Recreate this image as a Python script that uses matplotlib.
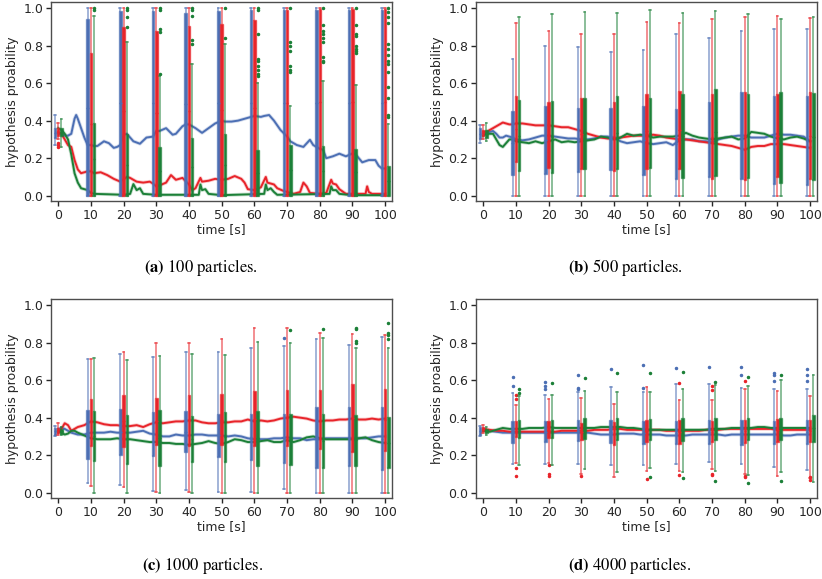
import numpy as np
import matplotlib
matplotlib.use('Agg')
from matplotlib import pyplot as plt
from matplotlib.colors import to_rgba

# colours of the three hypotheses
BLUE = '#4c6fb4'
RED = '#e8242a'
GREEN = '#1c8038'
colors = [BLUE, RED, GREEN]

box_times = np.array([0, 10, 20, 30, 40, 50, 60, 70, 80, 90, 100])

# ---------------- (a) 100 particles ----------------
a_blue_t = [0, 1, 2, 3, 4, 5, 5.5, 6, 7, 8, 9, 10, 11, 12, 14, 15.5, 17, 18, 19, 20,
            21, 22, 23, 25, 27, 29, 30, 31, 33, 35, 36, 38, 39, 40, 42, 44, 46, 48, 50, 51,
            53, 55, 57, 60, 62, 63, 64.5, 66, 68, 70, 71, 73, 75, 77, 78, 80, 81, 82, 84, 86,
            88, 90, 91, 93, 95, 97, 98, 99, 100]
a_blue = [0.33, 0.33, 0.32, 0.32, 0.33, 0.41, 0.43, 0.41, 0.36, 0.31,
          0.27, 0.27, 0.265, 0.265, 0.29, 0.28, 0.255, 0.26, 0.27, 0.325,
          0.33, 0.31, 0.29, 0.277, 0.31, 0.315, 0.345, 0.345, 0.36, 0.325,
          0.33, 0.37, 0.38, 0.38, 0.36, 0.335, 0.36, 0.385, 0.40, 0.395,
          0.395, 0.40, 0.41, 0.425, 0.42, 0.425, 0.43, 0.40, 0.35, 0.316,
          0.29, 0.27, 0.26, 0.298, 0.27, 0.25, 0.245, 0.20, 0.21, 0.224,
          0.21, 0.225, 0.22, 0.178, 0.19, 0.19, 0.16, 0.145, 0.145]
a_red_t = [0, 1, 2, 3, 4, 5, 6, 7, 9, 10, 11, 13, 15, 17, 19, 21, 22, 24, 26, 28,
           29, 30, 31, 33, 34.5, 36, 38, 40, 41, 42, 43.5, 44, 46, 48, 50, 52, 54, 56, 57, 58,
           60, 62, 63.5, 64, 65, 66, 67, 69, 70, 72, 74, 75, 76, 77, 80, 82, 83.5, 84, 85, 86,
           88, 90, 94, 94.5, 95, 96, 100]
a_red = [0.34, 0.33, 0.30, 0.27, 0.26, 0.19, 0.14, 0.12, 0.13, 0.13,
         0.12, 0.125, 0.11, 0.09, 0.075, 0.10, 0.095, 0.075, 0.07, 0.075,
         0.065, 0.05, 0.055, 0.07, 0.11, 0.085, 0.095, 0.06, 0.03, 0.04,
         0.095, 0.075, 0.08, 0.09, 0.085, 0.09, 0.105, 0.09, 0.07, 0.035,
         0.03, 0.045, 0.10, 0.07, 0.065, 0.06, 0.04, 0.025, 0.02, 0.01,
         0.02, 0.07, 0.05, 0.015, 0.01, 0.015, 0.085, 0.065, 0.06, 0.035,
         0.01, 0.01, 0.01, 0.05, 0.02, 0.01, 0.01]
a_green_t = [0, 1, 2, 3, 4, 5, 6, 7, 8, 9, 10, 11, 15, 20, 22, 23, 24, 25, 26, 30,
             43, 43.5, 44, 45, 46, 50, 63, 63.5, 64, 65, 66, 67, 83, 83.5, 84, 85, 86, 90, 100]
a_green = [0.36, 0.35, 0.33, 0.30, 0.22, 0.12, 0.07, 0.04, 0.035, 0.03, 0.015, 0.01,
           0.008, 0.005, 0.01, 0.062, 0.03, 0.04, 0.01, 0.005,
           0.005, 0.06, 0.03, 0.035, 0.01, 0.003,
           0.01, 0.06, 0.03, 0.04, 0.02, 0.005,
           0.01, 0.05, 0.03, 0.03, 0.01, 0.003, 0.003]

a_q1 = [[0.31, 0, 0, 0, 0, 0, 0, 0, 0, 0, 0],
        [0.32, 0, 0, 0, 0, 0, 0, 0, 0, 0, 0],
        [0.32, 0, 0, 0, 0, 0, 0, 0, 0, 0, 0]]
a_q3 = [[0.36, 0.94, 0.985, 0.985, 0.975, 0.985, 0.99, 0.99, 0.99, 0.99, 0.99],
        [0.36, 0.76, 0.90, 0.88, 0.905, 0.915, 0.935, 0.99, 0.995, 0.995, 0.995],
        [0.36, 0.39, 0.33, 0.26, 0.31, 0.33, 0.245, 0.27, 0.265, 0.25, 0.16]]
a_lo = [[0.27, 0, 0, 0, 0, 0, 0, 0, 0, 0, 0],
        [0.30, 0, 0, 0, 0, 0, 0, 0, 0, 0, 0],
        [0.26, 0, 0, 0, 0, 0, 0, 0, 0, 0, 0]]
a_hi = [[0.43, 1, 1, 1, 1, 1, 1, 1, 1, 1, 1],
        [0.39, 1, 1, 1, 1, 1, 1, 1, 1, 1, 1],
        [0.41, 0.96, 0.82, 0.64, 0.70, 0.81, 0.60, 0.48, 0.61, 0.59, 0.38]]
a_fl = [[[]] * 11,
        [[0.26, 0.27, 0.28]] + [[]] * 10,
        [[], [0.99, 1.0], [0.9, 0.95, 0.99, 1.0], [0.65, 0.87, 0.89, 0.99, 1.0],
         [0.81, 0.83, 0.96, 0.99, 1.0], [0.84, 1.0],
         [0.64, 0.65, 0.67, 0.69, 0.72, 0.73, 0.86, 0.99, 1.0],
         [0.66, 0.67, 0.69, 0.77, 0.80, 0.82, 1.0],
         [0.71, 0.72, 0.74, 0.82, 0.84, 0.86, 0.88, 0.91, 1.0],
         [0.76, 0.77, 0.78, 0.80, 0.85, 0.86, 0.91, 1.0],
         [0.42, 0.43, 0.52, 0.58, 0.66, 0.70, 0.72, 0.75, 0.78, 0.81, 0.92, 0.95, 0.98, 1.0]]]

# ---------------- (b) 500 particles ----------------
b_t = np.r_[0:11, 12:101:2]
b_blue = [0.33, 0.34, 0.34, 0.345, 0.33, 0.31, 0.31, 0.32, 0.315, 0.31, 0.30,
          0.295, 0.30, 0.31, 0.32, 0.32, 0.315, 0.31, 0.305, 0.305, 0.30,
          0.30, 0.305, 0.315, 0.315, 0.31, 0.29, 0.28, 0.285, 0.29, 0.28,
          0.275, 0.28, 0.285, 0.27, 0.295, 0.30, 0.30, 0.29, 0.29, 0.285,
          0.30, 0.31, 0.315, 0.32, 0.32, 0.31, 0.31, 0.31, 0.32, 0.33,
          0.325, 0.325, 0.32, 0.315, 0.29]
b_red = [0.34, 0.34, 0.35, 0.36, 0.37, 0.38, 0.39, 0.385, 0.38, 0.38, 0.385,
         0.385, 0.38, 0.375, 0.375, 0.375, 0.37, 0.365, 0.365, 0.355, 0.345,
         0.33, 0.32, 0.31, 0.305, 0.305, 0.31, 0.315, 0.32, 0.32, 0.32,
         0.325, 0.32, 0.31, 0.305, 0.30, 0.30, 0.295, 0.29, 0.285, 0.28,
         0.275, 0.27, 0.265, 0.255, 0.245, 0.26, 0.265, 0.265, 0.275, 0.275,
         0.275, 0.27, 0.265, 0.26, 0.255]
b_green = [0.32, 0.33, 0.33, 0.33, 0.30, 0.27, 0.26, 0.28, 0.30, 0.30, 0.29,
           0.285, 0.28, 0.29, 0.28, 0.29, 0.30, 0.285, 0.29, 0.285, 0.29,
           0.295, 0.30, 0.315, 0.31, 0.30, 0.31, 0.33, 0.32, 0.325, 0.32,
           0.31, 0.315, 0.315, 0.315, 0.32, 0.335, 0.32, 0.31, 0.305, 0.30,
           0.305, 0.31, 0.315, 0.30, 0.305, 0.34, 0.335, 0.33, 0.315, 0.305,
           0.30, 0.31, 0.315, 0.305, 0.29]

b_q1 = [[0.30, 0.11, 0.115, 0.125, 0.135, 0.11, 0.09, 0.10, 0.09, 0.06, 0.055],
        [0.32, 0.18, 0.15, 0.14, 0.13, 0.145, 0.145, 0.09, 0.085, 0.10, 0.09],
        [0.31, 0.13, 0.12, 0.145, 0.14, 0.15, 0.095, 0.105, 0.095, 0.07, 0.085]]
b_q3 = [[0.36, 0.45, 0.48, 0.47, 0.465, 0.48, 0.46, 0.50, 0.555, 0.53, 0.53],
        [0.35, 0.53, 0.50, 0.52, 0.50, 0.54, 0.56, 0.54, 0.55, 0.54, 0.55],
        [0.35, 0.51, 0.505, 0.52, 0.53, 0.52, 0.54, 0.57, 0.54, 0.55, 0.545]]
b_lo = [[0.28, 0, 0, 0, 0, 0, 0, 0, 0, 0, 0],
        [0.30, 0, 0, 0, 0, 0, 0, 0, 0, 0, 0],
        [0.29, 0, 0, 0, 0, 0, 0, 0, 0, 0, 0]]
b_hi = [[0.375, 0.73, 0.80, 0.79, 0.765, 0.775, 0.86, 0.84, 0.88, 0.89, 0.89],
        [0.375, 0.92, 0.88, 0.86, 0.86, 0.925, 0.92, 0.94, 0.95, 0.96, 0.945],
        [0.385, 0.95, 0.97, 0.98, 0.975, 0.99, 0.975, 0.985, 0.97, 0.94, 0.95]]
b_fl = [[[]] * 11, [[]] * 11, [[]] * 11]

# ---------------- (c) 1000 particles ----------------
c_t = np.r_[0:7, 8:101:2]
c_blue = [0.34, 0.345, 0.34, 0.33, 0.32, 0.315, 0.31,
          0.31, 0.32, 0.32, 0.32, 0.325, 0.32, 0.32, 0.32, 0.325, 0.33,
          0.315, 0.31, 0.30, 0.30, 0.31, 0.305, 0.305, 0.31, 0.31, 0.305,
          0.305, 0.305, 0.30, 0.305, 0.30, 0.29, 0.285, 0.285, 0.285, 0.29,
          0.29, 0.295, 0.29, 0.29, 0.28, 0.285, 0.285, 0.29, 0.29, 0.29,
          0.29, 0.29, 0.29, 0.29, 0.295, 0.30, 0.30]
c_red = [0.32, 0.34, 0.37, 0.36, 0.33, 0.34, 0.35,
         0.36, 0.38, 0.375, 0.365, 0.36, 0.36, 0.355, 0.355, 0.36, 0.35,
         0.365, 0.375, 0.37, 0.375, 0.38, 0.38, 0.385, 0.385, 0.375, 0.37,
         0.37, 0.375, 0.375, 0.38, 0.38, 0.39, 0.38, 0.385, 0.38, 0.385,
         0.395, 0.40, 0.405, 0.40, 0.395, 0.385, 0.38, 0.385, 0.385, 0.39,
         0.39, 0.395, 0.39, 0.39, 0.395, 0.39, 0.395]
c_green = [0.33, 0.32, 0.31, 0.315, 0.33, 0.33, 0.32,
           0.305, 0.29, 0.285, 0.285, 0.285, 0.29, 0.285, 0.285, 0.28, 0.275,
           0.27, 0.27, 0.265, 0.265, 0.26, 0.26, 0.255, 0.26, 0.265, 0.275,
           0.265, 0.26, 0.27, 0.285, 0.28, 0.27, 0.27, 0.275, 0.28, 0.27,
           0.27, 0.28, 0.27, 0.28, 0.295, 0.30, 0.29, 0.285, 0.285, 0.285,
           0.285, 0.285, 0.29, 0.295, 0.28, 0.27, 0.265]

c_q1 = [[0.31, 0.18, 0.20, 0.195, 0.215, 0.19, 0.175, 0.16, 0.13, 0.14, 0.12],
        [0.32, 0.25, 0.245, 0.255, 0.25, 0.255, 0.25, 0.25, 0.235, 0.215, 0.225],
        [0.315, 0.17, 0.155, 0.145, 0.165, 0.165, 0.145, 0.15, 0.13, 0.145, 0.13]]
c_q3 = [[0.345, 0.44, 0.445, 0.43, 0.435, 0.42, 0.42, 0.42, 0.455, 0.455, 0.455],
        [0.345, 0.50, 0.52, 0.505, 0.52, 0.525, 0.54, 0.545, 0.545, 0.58, 0.555],
        [0.34, 0.435, 0.415, 0.44, 0.41, 0.43, 0.435, 0.42, 0.42, 0.415, 0.405]]
c_lo = [[0.30, 0.05, 0.04, 0.01, 0.015, 0.005, 0.005, 0.02, 0, 0, 0],
        [0.31, 0.035, 0.03, 0.005, 0.005, 0, 0, 0, 0, 0, 0],
        [0.305, 0, 0, 0, 0, 0, 0, 0, 0, 0, 0]]
c_hi = [[0.355, 0.71, 0.74, 0.725, 0.75, 0.75, 0.77, 0.78, 0.82, 0.785, 0.83],
        [0.37, 0.71, 0.75, 0.80, 0.80, 0.82, 0.875, 0.875, 0.85, 0.845, 0.84],
        [0.35, 0.72, 0.705, 0.73, 0.74, 0.735, 0.805, 0.80, 0.825, 0.77, 0.77]]
c_fl = [[[], [], [], [], [], [], [], [0.825], [], [], []],
        [[]] * 11,
        [[], [], [], [], [], [], [], [0.865], [0.87], [0.80, 0.81, 0.87, 0.88],
         [0.82, 0.84, 0.85, 0.905]]]

# ---------------- (d) 4000 particles ----------------
d_t = np.r_[0:101:2]
d_blue = [0.33, 0.33, 0.325, 0.32, 0.32, 0.32, 0.32, 0.32, 0.32, 0.32,
          0.32, 0.32, 0.32, 0.32, 0.32, 0.32, 0.32, 0.315, 0.31, 0.31,
          0.31, 0.315, 0.315, 0.315, 0.31, 0.31, 0.31, 0.31, 0.305, 0.305,
          0.305, 0.305, 0.31, 0.31, 0.31, 0.31, 0.31, 0.305, 0.31, 0.31,
          0.31, 0.31, 0.31, 0.31, 0.31, 0.31, 0.305, 0.305, 0.31, 0.31, 0.31]
d_red = [0.34, 0.335, 0.33, 0.33, 0.325, 0.325, 0.325, 0.325, 0.325, 0.325,
         0.325, 0.325, 0.33, 0.33, 0.33, 0.33, 0.33, 0.335, 0.335, 0.335,
         0.34, 0.34, 0.335, 0.335, 0.335, 0.335, 0.335, 0.335, 0.33, 0.33,
         0.33, 0.33, 0.33, 0.33, 0.335, 0.335, 0.335, 0.34, 0.34, 0.34,
         0.34, 0.34, 0.34, 0.34, 0.34, 0.335, 0.335, 0.335, 0.335, 0.335, 0.335]
d_green = [0.33, 0.325, 0.335, 0.345, 0.34, 0.34, 0.34, 0.345, 0.345, 0.345,
           0.35, 0.345, 0.345, 0.345, 0.345, 0.345, 0.345, 0.345, 0.35, 0.35,
           0.35, 0.35, 0.345, 0.345, 0.34, 0.335, 0.335, 0.335, 0.335, 0.335,
           0.335, 0.335, 0.335, 0.335, 0.335, 0.34, 0.34, 0.34, 0.345, 0.345,
           0.345, 0.345, 0.35, 0.35, 0.345, 0.345, 0.345, 0.345, 0.345, 0.345, 0.345]

d_q1 = [[0.31, 0.265, 0.27, 0.275, 0.265, 0.26, 0.26, 0.26, 0.255, 0.26, 0.26],
        [0.33, 0.295, 0.29, 0.28, 0.255, 0.27, 0.26, 0.27, 0.265, 0.27, 0.27],
        [0.32, 0.29, 0.29, 0.285, 0.28, 0.28, 0.275, 0.28, 0.28, 0.28, 0.27]]
d_q3 = [[0.35, 0.38, 0.38, 0.385, 0.385, 0.38, 0.38, 0.385, 0.385, 0.38, 0.385],
        [0.35, 0.38, 0.38, 0.37, 0.375, 0.39, 0.385, 0.38, 0.39, 0.395, 0.39],
        [0.34, 0.39, 0.39, 0.40, 0.40, 0.395, 0.40, 0.40, 0.40, 0.40, 0.415]]
d_lo = [[0.30, 0.155, 0.155, 0.155, 0.15, 0.15, 0.155, 0.165, 0.155, 0.135, 0.12],
        [0.32, 0.16, 0.16, 0.10, 0.085, 0.115, 0.115, 0.125, 0.10, 0.09, 0.08],
        [0.31, 0.15, 0.15, 0.125, 0.11, 0.13, 0.11, 0.115, 0.095, 0.11, 0.055]]
d_hi = [[0.355, 0.53, 0.52, 0.535, 0.565, 0.535, 0.58, 0.58, 0.56, 0.55, 0.555],
        [0.36, 0.47, 0.50, 0.505, 0.475, 0.565, 0.495, 0.495, 0.55, 0.54, 0.515],
        [0.35, 0.515, 0.52, 0.54, 0.535, 0.535, 0.555, 0.575, 0.57, 0.60, 0.625]]
d_fl = [[[], [0.57, 0.615], [0.55, 0.57, 0.59], [0.555, 0.56, 0.625], [0.66],
         [0.56, 0.68], [0.665], [0.67], [0.625, 0.67], [0.595, 0.625, 0.64],
         [0.595, 0.625, 0.66]],
        [[], [0.13, 0.087, 0.50, 0.52], [0.15, 0.10, 0.09], [0.09], [], [0.075],
         [0.585, 0.095], [0.545, 0.57, 0.095, 0.10], [0.595, 0.085, 0.09], [],
         [0.07, 0.085]],
        [[], [0.53, 0.55], [0.585], [0.61], [0.64], [0.085, 0.64], [0.08, 0.645],
         [0.59, 0.06], [0.615, 0.05], [0.625, 0.06], []]]

panels = [
    ([(a_blue_t, a_blue), (a_red_t, a_red), (a_green_t, a_green)], a_q1, a_q3, a_lo, a_hi, a_fl),
    ([(b_t, b_blue), (b_t, b_red), (b_t, b_green)], b_q1, b_q3, b_lo, b_hi, b_fl),
    ([(c_t, c_blue), (c_t, c_red), (c_t, c_green)], c_q1, c_q3, c_lo, c_hi, c_fl),
    ([(d_t, d_blue), (d_t, d_red), (d_t, d_green)], d_q1, d_q3, d_lo, d_hi, d_fl),
]
captions = [r'$\mathbf{(a)}$ 100 particles.', r'$\mathbf{(b)}$ 500 particles.',
            r'$\mathbf{(c)}$ 1000 particles.', r'$\mathbf{(d)}$ 4000 particles.']

W, H = 822, 579
# axes boxes in pixels: left, top, right, bottom
boxes_px = [(51, 2, 392, 201), (476, 2, 817, 201),
            (51, 299, 392, 498), (476, 299, 817, 498)]
caption_px = [(201, 268), (625, 268), (203, 565), (630, 565)]

plt.rcParams['mathtext.fontset'] = 'stix'
fig = plt.figure(figsize=(W / 100, H / 100), dpi=100)

for p, (lines, q1, q3, lo, hi, fl) in enumerate(panels):
    l, t, r, b = boxes_px[p]
    ax = fig.add_axes([l / W, 1 - b / H, (r - l) / W, (b - t) / H])
    for k, color in enumerate(colors):
        tt, yy = lines[k]
        ax.plot(tt, yy, color=color, lw=2.6, alpha=0.25, zorder=2)
        ax.plot(tt, yy, color=color, lw=1.4, zorder=2.1)
    for k, color in enumerate(colors):
        stats = []
        for i in range(len(box_times)):
            stats.append(dict(q1=q1[k][i], q3=q3[k][i], med=(q1[k][i] + q3[k][i]) / 2,
                              whislo=lo[k][i], whishi=hi[k][i], fliers=fl[k][i]))
        light = to_rgba(color, 0.6)
        ax.bxp(stats, positions=box_times + (k - 1), widths=0.75, capwidths=0.5,
               patch_artist=True, manage_ticks=False, zorder=3,
               boxprops=dict(facecolor=color, edgecolor=light, linewidth=1.0),
               whiskerprops=dict(color=light, linewidth=1.2),
               capprops=dict(color=light, linewidth=1.2),
               medianprops=dict(color=color, linewidth=1.0),
               flierprops=dict(marker='o', markersize=1.5, markerfacecolor=color,
                               markeredgecolor=color, linestyle='none'))
    ax.set_xlim(-2.2, 102.1)
    ax.set_ylim(-0.028, 1.032)
    ax.set_xticks(box_times)
    ax.set_xticklabels([str(v) for v in box_times])
    ax.set_yticks([0.0, 0.2, 0.4, 0.6, 0.8, 1.0])
    ax.set_yticklabels(['0.0', '0.2', '0.4', '0.6', '0.8', '1.0'])
    ax.tick_params(labelsize=9, colors='.15', length=3.5, width=1, pad=2)
    for s in ax.spines.values():
        s.set_color('.3')
        s.set_linewidth(1.0)
    ax.set_xlabel('time [s]', fontsize=9, color='.15', labelpad=1)
    ax.set_ylabel('hypothesis proability', fontsize=9, color='.15', labelpad=3)

    cx, cy = caption_px[p]
    fig.text(cx / W, 1 - cy / H, captions[p], family='STIXGeneral', fontsize=12,
             ha='center', va='center')

plt.savefig('out.png', dpi=100)
